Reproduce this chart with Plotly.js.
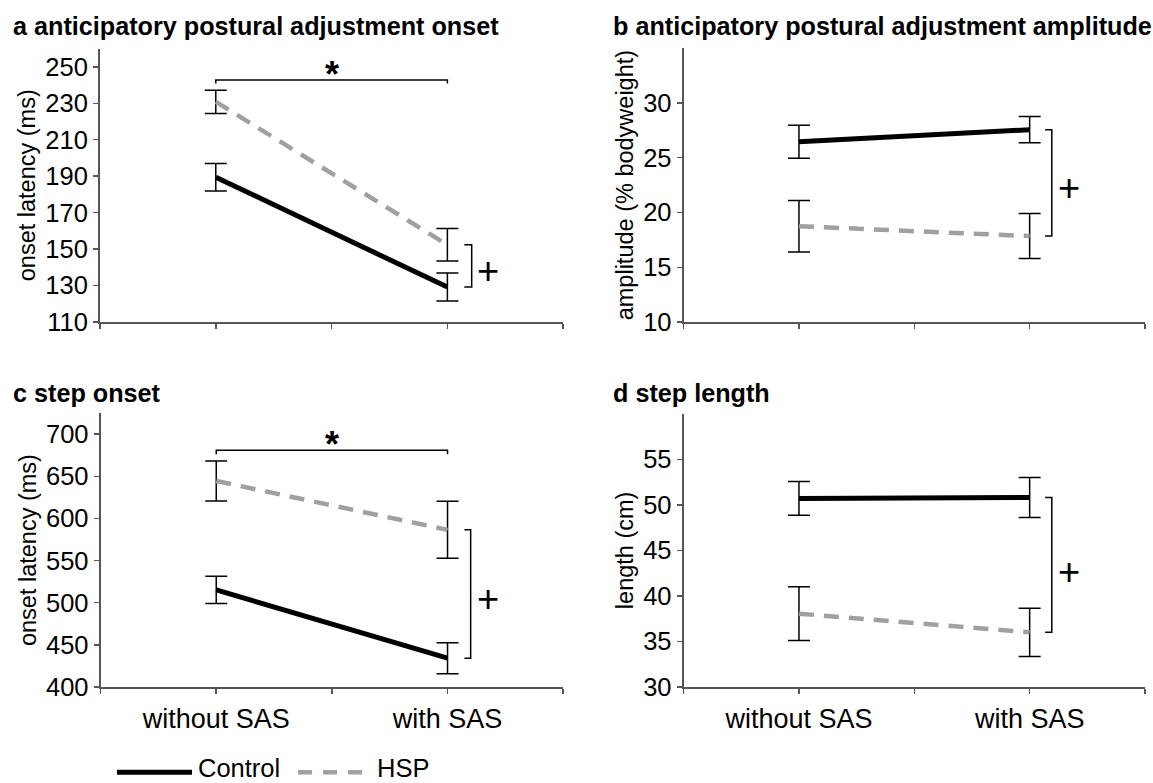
<!DOCTYPE html>
<html><head><meta charset="utf-8">
<script src="https://cdn.plot.ly/plotly-3.0.1.min.js"></script>
<style>html,body{margin:0;padding:0;background:#fff}</style>
</head><body><div id="chart" style="width:1153px;height:783px"></div>
<script>
// ---- data ----
const categories = ['without SAS', 'with SAS'];
const seriesNames = ['Control', 'HSP'];

// a anticipatory postural adjustment onset (ms)
const apaOnsetControl = [189.4, 129.1];
const apaOnsetControlErr = [7.5, 7.7];
const apaOnsetHSP = [230.8, 152.3];
const apaOnsetHSPErr = [6.4, 8.9];

// b anticipatory postural adjustment amplitude (% bodyweight)
const apaAmpControl = [26.45, 27.55];
const apaAmpControlErr = [1.5, 1.2];
const apaAmpHSP = [18.75, 17.85];
const apaAmpHSPErr = [2.35, 2.05];

// c step onset (ms)
const stepOnsetControl = [515.2, 434.2];
const stepOnsetControlErr = [16.2, 18.4];
const stepOnsetHSP = [644.5, 586.5];
const stepOnsetHSPErr = [23.7, 33.8];

// d step length (cm)
const stepLenControl = [50.7, 50.8];
const stepLenControlErr = [1.85, 2.2];
const stepLenHSP = [38.05, 36.0];
const stepLenHSPErr = [2.95, 2.65];

const panelTitles = ['a anticipatory postural adjustment onset', 'b anticipatory postural adjustment amplitude', 'c step onset', 'd step length'];
const yTitles = ['onset latency (ms)', 'amplitude (% bodyweight)', 'onset latency (ms)', 'length (cm)'];
const yTickVals = [[110,130,150,170,190,210,230,250],[10,15,20,25,30],[400,450,500,550,600,650,700],[30,35,40,45,50,55]];

// ---- layout helpers ----
const W = 1153, H = 783;
const M = {l: 100, r: 8.4, t: 47.9, b: 96.3};
const PW = W - M.l - M.r, PH = H - M.t - M.b;
const dx = p => (p - M.l) / PW;
const dy = p => (H - M.b - p) / PH;
const FONT = 'Liberation Sans, Arial, Helvetica, sans-serif';

const panels = [
  {c: apaOnsetControl, ce: apaOnsetControlErr, h: apaOnsetHSP, he: apaOnsetHSPErr,
   xd: [100, 563], yd: [321.7, 48.5], yr: [110, 260]},
  {c: apaAmpControl, ce: apaAmpControlErr, h: apaAmpHSP, he: apaAmpHSPErr,
   xd: [683.4, 1144.6], yd: [322, 47.9], yr: [10, 35]},
  {c: stepOnsetControl, ce: stepOnsetControlErr, h: stepOnsetHSP, he: stepOnsetHSPErr,
   xd: [100.6, 563], yd: [686.7, 412.9], yr: [400, 725]},
  {c: stepLenControl, ce: stepLenControlErr, h: stepLenHSP, he: stepLenHSPErr,
   xd: [683.4, 1144.6], yd: [686.7, 413.5], yr: [30, 60]}
];

const xIdx = categories.map((_, i) => i);
const traces = [];
const layout = {
  width: W, height: H, margin: M, paper_bgcolor: '#fff', plot_bgcolor: 'rgba(0,0,0,0)',
  showlegend: false, font: {family: FONT, color: '#000', size: 24},
  annotations: [], shapes: []
};

panels.forEach((p, k) => {
  const n = k + 1;
  const xa = n === 1 ? 'x' : 'x' + n, ya = n === 1 ? 'y' : 'y' + n;
  const xk = n === 1 ? 'xaxis' : 'xaxis' + n, yk = n === 1 ? 'yaxis' : 'yaxis' + n;
  const bottom = k >= 2;
  traces.push({
    type: 'scatter', mode: 'lines', name: seriesNames[1], x: xIdx, y: p.h, xaxis: xa, yaxis: ya,
    line: {color: '#a0a0a0', width: 4.5, dash: '15px,10px'},
    error_y: {type: 'data', array: p.he, visible: true, color: '#000', thickness: 1.5, width: 11}
  });
  traces.push({
    type: 'scatter', mode: 'lines', name: seriesNames[0], x: xIdx, y: p.c, xaxis: xa, yaxis: ya,
    line: {color: '#000', width: 5},
    error_y: {type: 'data', array: p.ce, visible: true, color: '#000', thickness: 1.5, width: 11}
  });
  layout[xk] = {
    domain: [dx(p.xd[0]), dx(p.xd[1])], anchor: ya, range: [-0.5, xIdx.length - 0.5],
    tickmode: 'array', tickvals: [-0.5, 0, 0.5, 1, 1.5],
    ticktext: bottom ? ['', categories[0], '', categories[1], ''] : ['', '', '', '', ''],
    ticks: 'outside', ticklen: 5, tickwidth: 1.5, tickcolor: '#555',
    showline: true, linecolor: '#555', linewidth: 2, showgrid: false, zeroline: false,
    tickfont: {size: 27, family: FONT, color: '#000'}, ticklabelstandoff: 2, fixedrange: true
  };
  layout[yk] = {
    domain: [dy(p.yd[0]), dy(p.yd[1])], anchor: xa, range: p.yr,
    tickmode: 'array', tickvals: yTickVals[k], ticktext: yTickVals[k].map(String),
    ticks: 'outside', ticklen: 5, tickwidth: 1.5, tickcolor: '#555',
    showline: true, linecolor: '#555', linewidth: 2, showgrid: false, zeroline: false,
    tickfont: {size: 25.5, family: FONT, color: '#000'},
    title: {text: yTitles[k], font: {size: 23.5, family: FONT, color: '#000'}, standoff: 3},
    fixedrange: true
  };
});

// panel titles
const titlePos = [[11, 26], [611, 26], [11, 392.5], [611, 392.5]];
panelTitles.forEach((t, k) => {
  layout.annotations.push({text: '<b>' + t + '</b>', xref: 'paper', yref: 'paper',
    x: dx(titlePos[k][0]), y: dy(titlePos[k][1]), xanchor: 'left', yanchor: 'middle',
    showarrow: false, font: {size: 25.2, family: FONT, color: '#000'}});
});

// significance markers
function topBracket(xa, ya, yTop, yEnd, starY) {
  layout.shapes.push({type: 'path', xref: xa, yref: ya,
    path: `M 0 ${yEnd} L 0 ${yTop} L 1 ${yTop} L 1 ${yEnd}`,
    line: {color: '#000', width: 1.5}});
  layout.annotations.push({text: '<b>*</b>', xref: xa, yref: ya, x: 0.5, y: starY,
    xanchor: 'center', yanchor: 'middle', showarrow: false, font: {size: 36, family: FONT, color: '#000'}});
}
function sideBracket(xa, ya, xIn, xOut, y1, y2, xPlus, yPlus) {
  layout.shapes.push({type: 'path', xref: xa, yref: ya,
    path: `M ${xIn} ${y1} L ${xOut} ${y1} L ${xOut} ${y2} L ${xIn} ${y2}`,
    line: {color: '#000', width: 1.5}});
  layout.annotations.push({text: '+', xref: xa, yref: ya, x: xPlus, y: yPlus,
    xanchor: 'center', yanchor: 'middle', showarrow: false, font: {size: 38, family: FONT, color: '#000'}});
}
topBracket('x', 'y', 242.7, 240.8, 246.0);
topBracket('x3', 'y3', 681, 676.3, 687.3);
sideBracket('x', 'y', 1.073, 1.105, apaOnsetHSP[1], apaOnsetControl[1], 1.177, 137.8);
sideBracket('x2', 'y2', 1.067, 1.096, apaAmpControl[1], apaAmpHSP[1], 1.172, 22.19);
sideBracket('x3', 'y3', 1.073, 1.100, stepOnsetHSP[1], stepOnsetControl[1], 1.177, 504);
sideBracket('x4', 'y4', 1.067, 1.096, stepLenControl[1], stepLenHSP[1], 1.172, 42.67);

// legend (drawn manually)
layout.shapes.push({type: 'line', xref: 'paper', yref: 'paper', x0: dx(117), x1: dx(192), y0: dy(772), y1: dy(772),
  line: {color: '#000', width: 5}});
layout.shapes.push({type: 'line', xref: 'paper', yref: 'paper', x0: dx(298), x1: dx(370), y0: dy(772), y1: dy(772),
  line: {color: '#a0a0a0', width: 4.5, dash: '14px,11px'}});
layout.annotations.push({text: seriesNames[0], xref: 'paper', yref: 'paper', x: dx(196), y: dy(767.5),
  xanchor: 'left', yanchor: 'middle', showarrow: false, font: {size: 25.5, family: FONT, color: '#000'}});
layout.annotations.push({text: seriesNames[1], xref: 'paper', yref: 'paper', x: dx(375), y: dy(767.5),
  xanchor: 'left', yanchor: 'middle', showarrow: false, font: {size: 25.5, family: FONT, color: '#000'}});

Plotly.newPlot('chart', traces, layout, {displayModeBar: false, staticPlot: true});
</script></body></html>
